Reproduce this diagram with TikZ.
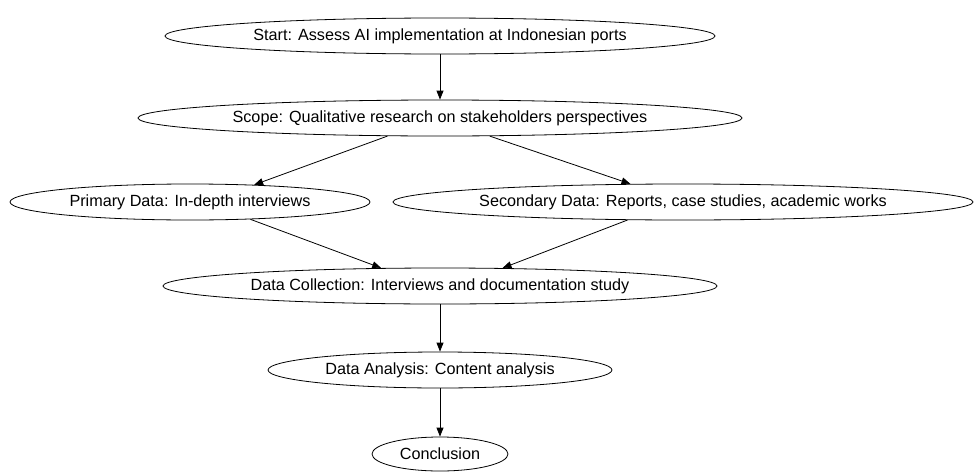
\documentclass[tikz,border=0pt]{standalone}
\usepackage{fontspec}
\setmainfont{Liberation Sans}
\usetikzlibrary{shapes.geometric,arrows.meta}
\begin{document}
\begin{tikzpicture}[x=1pt,y=-1pt,
  oval/.style={draw,ellipse,inner sep=0pt,minimum height=36pt,font=\fontsize{16.2}{19}\selectfont,line width=0.8pt},
  arr/.style={-{Triangle[length=9pt,width=7pt]},line width=0.8pt}]
\useasboundingbox (0,0) rectangle (974,471);
\node[oval,minimum width=550pt] (start) at (440,36) {Start: Assess AI implementation at Indonesian ports};
\node[oval,minimum width=604pt] (scope) at (440,118) {Scope: Qualitative research on stakeholders perspectives};
\node[oval,minimum width=360pt] (prim) at (190,202) {Primary Data: In-depth interviews};
\node[oval,minimum width=580pt] (sec) at (683,202) {Secondary Data: Reports, case studies, academic works};
\node[oval,minimum width=554pt] (coll) at (440,286) {Data Collection: Interviews and documentation study};
\node[oval,minimum width=344pt] (ana) at (440,370) {Data Analysis: Content analysis};
\node[oval,minimum width=136pt,minimum height=34pt] (conc) at (440,454) {Conclusion};
\draw[arr] (start) -- (scope);
\draw[arr] (scope.199.5) -- (prim.15.5);
\draw[arr] (scope.340.5) -- (sec.161.2);
\draw[arr] (prim.344.5) -- (coll.163.8);
\draw[arr] (sec.198.8) -- (coll.16.2);
\draw[arr] (coll) -- (ana);
\draw[arr] (ana) -- (conc);
\end{tikzpicture}
\end{document}
